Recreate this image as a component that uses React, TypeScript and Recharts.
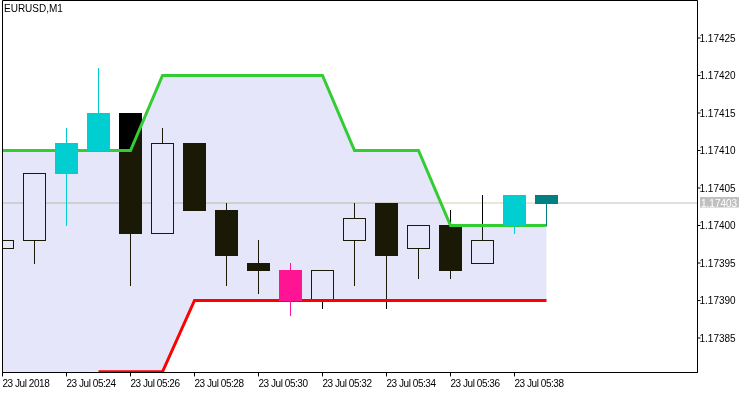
import React from 'react';
import {
  ComposedChart,
  Bar,
  Area,
  Line,
  XAxis,
  YAxis,
  CartesianGrid,
  ReferenceLine,
  ReferenceArea,
} from 'recharts';

// ---------- data ----------
const chartTitle = 'EURUSD,M1';
const barIndex = [0, 1, 2, 3, 4, 5, 6, 7, 8, 9, 10, 11, 12, 13, 14, 15, 16, 17];
const opens = [1.17397, 1.17398, 1.17407, 1.1741, 1.17415, 1.17399, 1.17411, 1.17402, 1.17395, 1.17394, 1.1739, 1.17398, 1.17403, 1.17397, 1.174, 1.17395, 1.174, 1.17404];
const highs = [1.17398, 1.17407, 1.17413, 1.17421, 1.17415, 1.17413, 1.17411, 1.17403, 1.17398, 1.17395, 1.17394, 1.17403, 1.17403, 1.174, 1.17402, 1.17404, 1.17404, 1.17404];
const lows = [1.17397, 1.17395, 1.174, 1.1741, 1.17392, 1.17399, 1.17402, 1.17392, 1.17391, 1.17388, 1.17389, 1.17392, 1.17389, 1.17393, 1.17393, 1.17395, 1.17399, 1.174];
const closes = [1.17398, 1.17407, 1.17411, 1.17415, 1.17399, 1.17411, 1.17402, 1.17396, 1.17394, 1.1739, 1.17394, 1.17401, 1.17396, 1.174, 1.17394, 1.17398, 1.17404, 1.17403];
const upperBand = [1.1741, 1.1741, 1.1741, 1.1741, 1.1741, 1.1742, 1.1742, 1.1742, 1.1742, 1.1742, 1.1742, 1.1741, 1.1741, 1.1741, 1.174, 1.174, 1.174, 1.174];
const lowerBand = [null, null, null, 1.173805, 1.173805, 1.173805, 1.1739, 1.1739, 1.1739, 1.1739, 1.1739, 1.1739, 1.1739, 1.1739, 1.1739, 1.1739, 1.1739, 1.1739];
const xTickIndex = [0, 2, 4, 6, 8, 10, 12, 14, 16];
const xTickLabels = ['23 Jul 2018', '23 Jul 05:24', '23 Jul 05:26', '23 Jul 05:28', '23 Jul 05:30', '23 Jul 05:32', '23 Jul 05:34', '23 Jul 05:36', '23 Jul 05:38'];
const yTicks = [1.17385, 1.1739, 1.17395, 1.174, 1.17405, 1.1741, 1.17415, 1.1742, 1.17425];

// ---------- layout constants ----------
const X_MAX = 695 / 32;
const Y_MAX = 1.1743;
const Y_MIN = 1.1743 - (372 / 7.5) * 1e-5;
const FONT = '"Liberation Sans", Arial, sans-serif';
const CYAN = '#00CED1';
const TEAL = '#008080';
const PINK = '#FF1493';
const lastClose = closes[closes.length - 1];

const data = barIndex.map((k, i) => ({
  k,
  o: opens[i],
  h: highs[i],
  l: lows[i],
  c: closes[i],
  upper: upperBand[i],
  lower: lowerBand[i],
  band: [lowerBand[i] == null ? Y_MIN : lowerBand[i], upperBand[i]],
}));

const tickLabelOf = new Map(xTickIndex.map((k, i) => [k, xTickLabels[i]]));

function signalColor(d: any): string | null {
  const eps = 1e-7;
  if (d.c > d.upper + eps) return d.c >= d.o ? CYAN : TEAL;
  if (d.lower != null && d.c <= d.lower + eps) return PINK;
  return null;
}

function geom(p: any) {
  const { x, y, width, height, payload } = p;
  const { o, h, l, c } = payload;
  const py = (v: number) => (h === l ? y : y + ((h - v) / (h - l)) * height);
  const col = Math.floor(x + width / 2);
  const top = Math.round(py(Math.max(o, c)));
  const bot = Math.round(py(Math.min(o, c)));
  return { col, top, bot, wickTop: Math.round(y), wickBot: Math.round(y + height), bull: c >= o };
}

const StdCandle = (p: any) => {
  if (!p.payload) return <g />;
  const g = geom(p);
  const left = g.col - 11;
  return (
    <g>
      <line x1={g.col + 0.5} x2={g.col + 0.5} y1={g.wickTop} y2={g.wickBot + 1} stroke="#000" strokeWidth={1} />
      {g.bull ? (
        <rect x={left + 0.5} y={g.top + 0.5} width={22} height={Math.max(g.bot - g.top, 1)} fill="#fff" stroke="#000" strokeWidth={1} />
      ) : (
        <rect x={left} y={g.top} width={23} height={Math.max(g.bot - g.top + 1, 1)} fill="#000" />
      )}
    </g>
  );
};

const SignalCandle = (p: any) => {
  if (!p.payload) return <g />;
  const color = signalColor(p.payload);
  if (!color) return <g />;
  const g = geom(p);
  const left = g.col - 11;
  return (
    <g>
      <line x1={g.col + 0.5} x2={g.col + 0.5} y1={g.wickTop} y2={g.wickBot + 1} stroke={color} strokeWidth={1} />
      <rect x={left} y={g.top} width={23} height={Math.max(g.bot - g.top + 1, 1)} fill={color} />
    </g>
  );
};

const XTick = (p: any) => {
  const label = tickLabelOf.get(p.payload.value) ?? '';
  return (
    <text x={p.x} y={p.y} dy={7.5} fontSize={10} fontFamily={FONT} fill="#000" textAnchor="start" letterSpacing={-0.45}>
      {label}
    </text>
  );
};

const YTick = (p: any) => (
  <text x={p.x - 1} y={p.y} dy={3.6} fontSize={10} fontFamily={FONT} fill="#000" textAnchor="start">
    {Number(p.payload.value).toFixed(5)}
  </text>
);

const PriceTag = (p: any) => {
  const vb = p.viewBox || { x: 0, y: 0, width: 0 };
  const right = vb.x + vb.width;
  return (
    <g>
      <rect x={right + 2.5} y={vb.y - 6} width={39} height={10.5} fill="#C0C0C0" />
      <text x={right + 3.5} y={vb.y + 3.6} fontSize={10} fontFamily={FONT} fill="#fff">
        {lastClose.toFixed(5)}
      </text>
    </g>
  );
};

export default function App() {
  return (
    <div style={{ position: 'relative', width: 750, height: 394, background: '#fff' }}>
      <style>{`body{margin:0;background:#fff} .band-area path, .band-area .recharts-area-area{mix-blend-mode:difference}`}</style>
      <ComposedChart width={750} height={394} data={data} margin={{ top: 0.5, left: 2.5, right: 0, bottom: 0 }}>
        <CartesianGrid horizontal={false} vertical={false} fill="#ffffff" />
        <XAxis
          dataKey="k"
          type="number"
          domain={[0, X_MAX]}
          ticks={xTickIndex}
          interval={0}
          allowDataOverflow
          height={21.5}
          tickSize={4}
          tickMargin={3}
          stroke="#000"
          tick={<XTick />}
        />
        <XAxis xAxisId="ov" dataKey="k" type="number" domain={[0, X_MAX]} allowDataOverflow hide />
        <XAxis xAxisId="band" dataKey="k" type="number" domain={[0, X_MAX]} hide />
        <YAxis
          orientation="right"
          type="number"
          domain={[Y_MIN, Y_MAX]}
          ticks={yTicks}
          interval={0}
          allowDataOverflow
          width={52.5}
          tickSize={3}
          tickMargin={0}
          stroke="#000"
          tick={<YTick />}
        />
        <YAxis yAxisId="band" orientation="right" type="number" domain={[Y_MIN, Y_MAX]} hide />
        <ReferenceLine y={lastClose} stroke="#C0C0C0" strokeWidth={1} label={<PriceTag />} zIndex={-60} />
        <ReferenceLine
          segment={[{ x: 0, y: lastClose }, { x: 17, y: lastClose }]}
          stroke="rgb(242,242,202)"
          strokeWidth={1}
          zIndex={-55}
        />
        <Bar dataKey={(d: any) => [d.l, d.h]} barSize={23} shape={<StdCandle />} isAnimationActive={false} zIndex={50} />
        <Area
          className="band-area"
          xAxisId="band"
          yAxisId="band"
          dataKey="band"
          type="linear"
          fill="rgb(25,25,5)"
          fillOpacity={1}
          stroke="none"
          isAnimationActive={false}
          zIndex={100}
          dot={false}
          activeDot={false}
        />
        <Line dataKey="upper" type="linear" stroke="#32CD32" strokeWidth={3} dot={false} activeDot={false} isAnimationActive={false} zIndex={400} />
        <Line dataKey="lower" type="linear" stroke="#FF0000" strokeWidth={3} dot={false} activeDot={false} connectNulls={false} isAnimationActive={false} zIndex={400} />
        <Bar xAxisId="ov" dataKey={(d: any) => [d.l, d.h]} barSize={23} shape={<SignalCandle />} isAnimationActive={false} zIndex={450} />
        <ReferenceArea x1={0} x2={X_MAX} y1={Y_MIN} y2={Y_MAX} fill="none" stroke="#000" strokeWidth={1} ifOverflow="visible" zIndex={1500} />
      </ComposedChart>
      <div
        style={{
          position: 'absolute',
          left: 4,
          top: 3,
          fontFamily: FONT,
          fontSize: 10,
          lineHeight: '12px',
          color: '#000',
          pointerEvents: 'none',
        }}
      >
        {chartTitle}
      </div>
    </div>
  );
}
